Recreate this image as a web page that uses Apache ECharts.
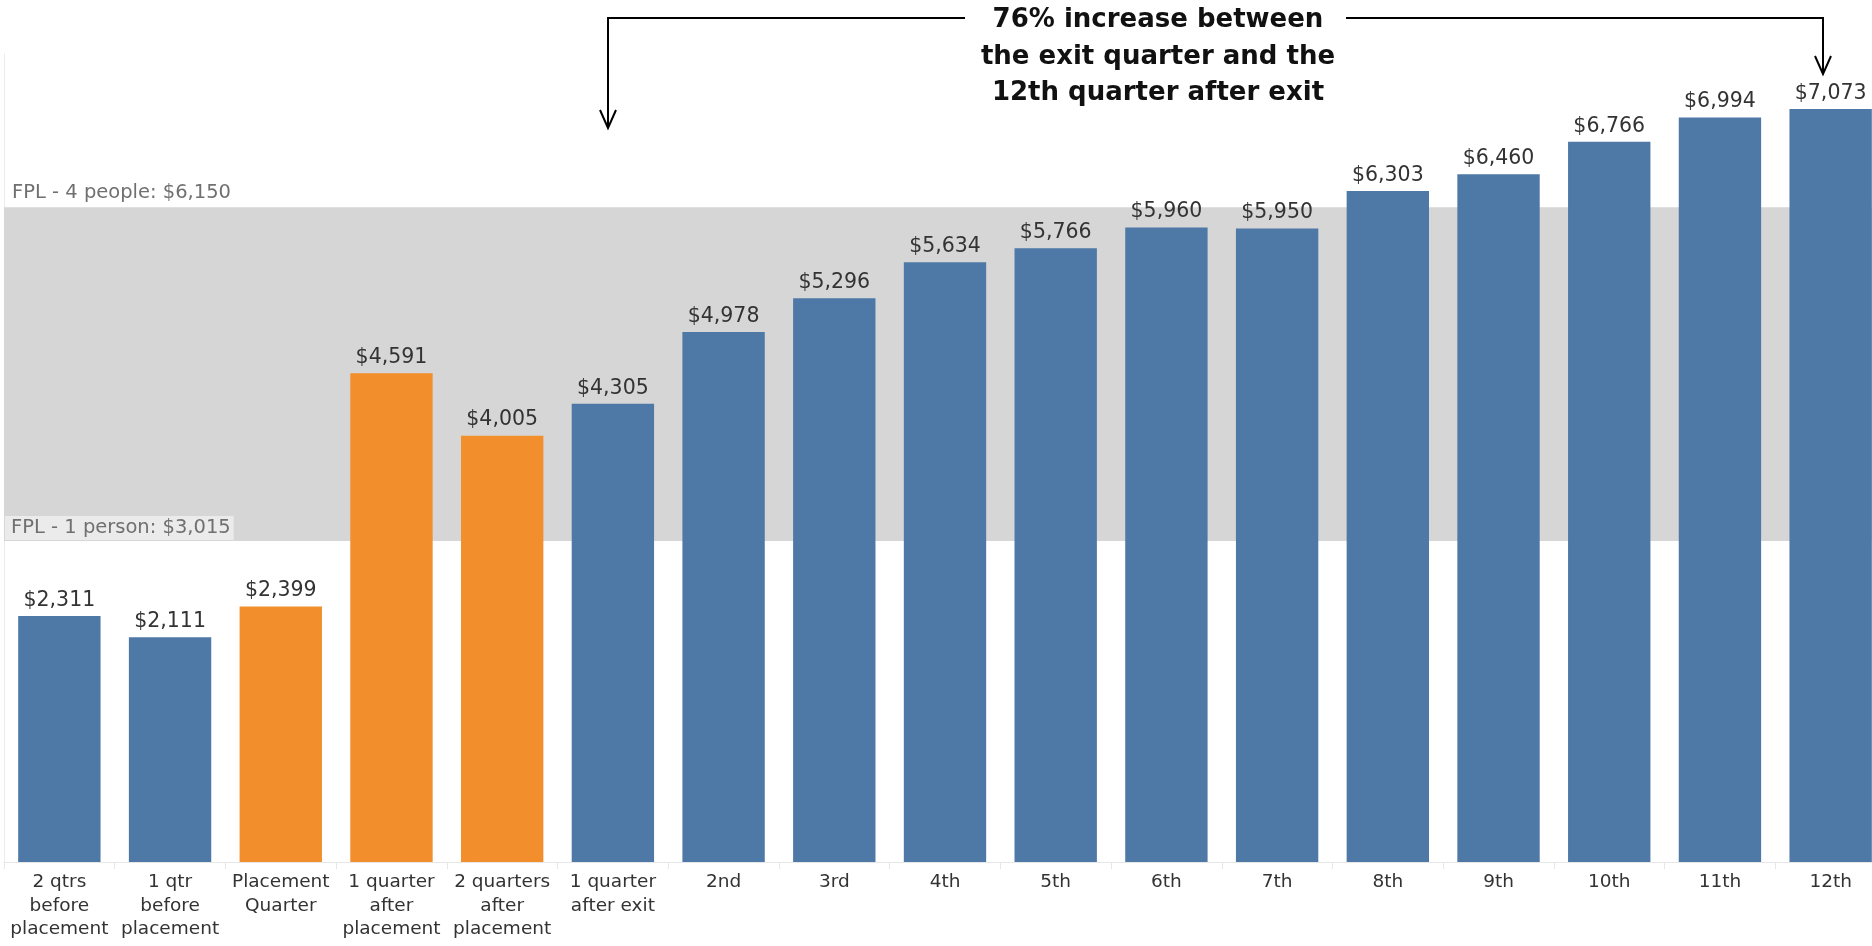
<!DOCTYPE html>
<html><head><meta charset="utf-8">
<script src="https://cdn.jsdelivr.net/npm/echarts@6/dist/echarts.min.js"></script>
<style>html,body{margin:0;padding:0;background:#fff;overflow:hidden}#c{width:1886px;height:946px}</style>
</head><body><div id="c"></div>
<script>
const categories = ["2 qtrs\nbefore\nplacement","1 qtr\nbefore\nplacement","Placement\nQuarter","1 quarter\nafter\nplacement","2 quarters\nafter\nplacement","1 quarter\nafter exit","2nd","3rd","4th","5th","6th","7th","8th","9th","10th","11th","12th"];
const earnings = [2311,2111,2399,4591,4005,4305,4978,5296,5634,5766,5960,5950,6303,6460,6766,6994,7073];
const inProgram = [false,false,true,true,true,false,false,false,false,false,false,false,false,false,false,false,false];
const fplOnePerson = 3015;
const fplFourPeople = 6150;
const annotation = "76% increase between\nthe exit quarter and the\n12th quarter after exit";

const BLUE = '#4e79a7', ORANGE = '#f28e2b';
const chart = echarts.init(document.getElementById('c'), null, {renderer:'canvas'});
const fmt = v => '$' + v.toLocaleString('en-US');
const FONT = 'DejaVu Sans';

chart.setOption({
  animation:false,
  grid:{left:4, top:54, right:0, bottom:84},
  xAxis:{type:'category', data:categories,
    axisLine:{show:true, lineStyle:{color:'#e6e6e6'}},
    axisTick:{show:true, length:7, lineStyle:{color:'#e6e6e6'}},
    axisLabel:{color:'#333', fontFamily:FONT, fontSize:18.5, lineHeight:23.8, margin:8, interval:0}
  },
  yAxis:{type:'value', min:0, max:7590,
    axisLine:{show:true, lineStyle:{color:'#ececec'}},
    axisTick:{show:false}, axisLabel:{show:false}, splitLine:{show:false}},
  series:[{
    type:'bar', barCategoryGap:'25.6%',
    data: earnings.map((v,i)=>({value:v, itemStyle:{color: inProgram[i]?ORANGE:BLUE}})),
    label:{show:true, position:'top', distance:5, formatter:p=>fmt(p.value), color:'#333', fontFamily:FONT, fontSize:20.5},
    markArea:{silent:true, itemStyle:{color:'#d6d6d6'}, data:[[{yAxis:fplOnePerson},{yAxis:fplFourPeople}]]},
    markLine:{silent:true, symbol:'none', lineStyle:{color:'rgba(0,0,0,0)', width:0},
      data:[
        {yAxis:fplFourPeople, label:{show:true, formatter:'FPL - 4 people: ' + fmt(fplFourPeople), position:'insideStartTop', distance:[8,4], color:'#707070', fontFamily:FONT, fontSize:19.5}},
        {yAxis:fplOnePerson, label:{show:true, formatter:'FPL - 1 person: ' + fmt(fplOnePerson), position:'insideStartTop', distance:[1,1], color:'#707070', fontFamily:FONT, fontSize:19.5, backgroundColor:'#ebebeb', padding:[2,3,2,6]}}
      ]}
  }],
  graphic:[
    {type:'text', x:1158, y:2, style:{text:annotation, textAlign:'center', font:'bold 26px "DejaVu Sans"', lineHeight:36.5, fill:'#111'}},
    {type:'polyline', shape:{points:[[965,18],[608,18],[608,128]]}, style:{stroke:'#000', lineWidth:2, fill:null}},
    {type:'polyline', shape:{points:[[600,110],[608,128],[616,110]]}, style:{stroke:'#000', lineWidth:2, fill:null}},
    {type:'polyline', shape:{points:[[1346,18],[1823,18],[1823,74]]}, style:{stroke:'#000', lineWidth:2, fill:null}},
    {type:'polyline', shape:{points:[[1815,56],[1823,74],[1831,56]]}, style:{stroke:'#000', lineWidth:2, fill:null}}
  ]
});
</script></body></html>
